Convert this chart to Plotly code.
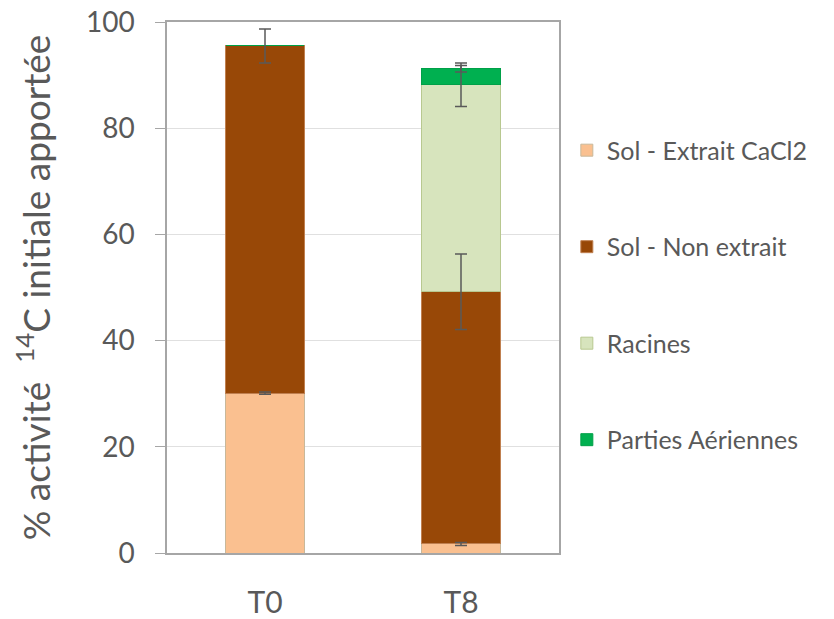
import numpy as np
import plotly.graph_objects as go

categories = ["T0", "T8"]
series_names = ["Sol - Extrait CaCl2", "Sol - Non extrait", "Racines", "Parties Aériennes"]
extrait = [30.1, 1.7]
non_extrait = [65.4, 47.5]
racines = [0, 39.0]
aeriennes = [0, 3.0]
err_extrait = [0.2, 0.3]
err_non_extrait = [3.2, 7.1]
err_racines = [0, 4.1]
err_aeriennes = [0, 0.6]
y_ticks = [0, 20, 40, 60, 80, 100]

values = [extrait, non_extrait, racines, aeriennes]
errors = [err_extrait, err_non_extrait, err_racines, err_aeriennes]
colors = ["#FAC090", "#984807", "#D7E4BD", "#00B050"]
edges = ["#C8B89A", "#C08050", "#B8C890", "#00A048"]

fig = go.Figure()
for i, (name, v, c, ec) in enumerate(zip(series_names, values, colors, edges)):
    fig.add_trace(go.Bar(
        x=categories, y=v, name=name,
        marker=dict(color=c, line=dict(color=ec, width=1)),
        legendgroup=f"g{i}",
    ))

# error bars drawn on top of all stacked segments, at each segment's cumulative top
cum = np.cumsum(np.array(values, dtype=float), axis=0)
for i, e in enumerate(errors):
    ys = [cum[i][j] if (values[i][j] > 0 and e[j] > 0) else None for j in range(len(categories))]
    fig.add_trace(go.Scatter(
        x=categories, y=ys, mode="markers", marker=dict(size=1, opacity=0),
        showlegend=False, hoverinfo="skip",
        error_y=dict(type="data", array=e, visible=True,
                     color="#595959", thickness=1.5, width=6),
    ))

fig.update_layout(
    width=826, height=611,
    barmode="stack", bargap=0.6,
    margin=dict(l=159, r=275, t=14, b=66, autoexpand=False),
    plot_bgcolor="white", paper_bgcolor="white",
    font=dict(family="Lato, Open Sans, sans-serif", color="#595959"),
    showlegend=True,
    legend=dict(x=1.02, y=0.486, xanchor="left", yanchor="middle",
                traceorder="grouped", tracegroupgap=61,
                font=dict(size=25, color="#595959")),
)
fig.update_yaxes(
    range=[0, 100], tickvals=y_ticks, ticks="outside", ticklen=10,
    tickcolor="#A6A6A6", showline=True, linecolor="#A6A6A6", linewidth=1.5,
    mirror=True, showgrid=True, gridcolor="#E0E0E0", gridwidth=1,
    tickfont=dict(size=28, color="#595959"), ticklabelstandoff=15,
    ticklabeloverflow="allow",
    title=dict(text="% activité  <sup>14</sup>C initiale apportée",
               font=dict(size=37, color="#595959"), standoff=30),
    zeroline=False, automargin=False,
)
fig.update_xaxes(
    showline=True, linecolor="#A6A6A6", linewidth=1.5, mirror=True,
    tickfont=dict(size=30, color="#595959"), ticks="", ticklabelstandoff=22,
    automargin=False,
)
fig.write_html("out.html")
